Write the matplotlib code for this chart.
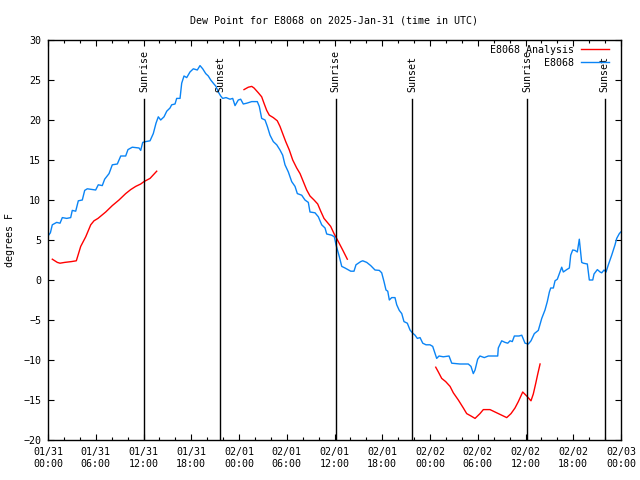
import matplotlib
matplotlib.use("Agg")
import matplotlib.pyplot as plt
from matplotlib.ticker import MultipleLocator, FixedLocator, FixedFormatter

# ---- data (hours since 2025-01-31 00:00 UTC, degrees F) ----
obs_h = [0.0, 0.3, 0.54, 1.09, 1.51, 1.80, 2.35, 2.85, 3.05, 3.48, 3.81, 4.31, 4.61, 4.94, 5.99,
         6.32, 6.82, 7.12, 7.67, 8.08, 8.71, 9.14, 9.76, 10.05, 10.59, 11.44, 11.65, 11.90, 12.28,
         12.82, 13.23, 13.57, 13.86, 14.16, 14.58, 14.92, 15.33, 15.54, 15.96, 16.17, 16.59, 16.80,
         17.09, 17.43, 17.84, 18.26, 18.76, 19.10, 19.44, 19.82, 20.14, 20.45, 20.77, 21.11, 21.40,
         21.70, 21.95, 22.37, 22.87, 23.21, 23.50, 23.91, 24.21, 24.54, 24.97, 25.60, 26.30, 26.55,
         26.85, 27.27, 27.56, 27.90, 28.31, 28.74, 29.15, 29.49, 29.78, 30.20, 30.62, 31.04, 31.33,
         31.88, 32.29, 32.71, 32.92, 33.55, 33.97, 34.39, 34.81, 35.02, 35.65, 35.98, 36.19, 36.61,
         36.91, 37.32, 38.04, 38.45, 38.70, 39.29, 39.55, 40.05, 40.55, 41.09, 41.63, 41.93, 42.22,
         42.47, 42.69, 42.89, 43.19, 43.60, 43.82, 44.14, 44.45, 44.73, 45.15, 45.49, 45.78, 46.12,
         46.41, 46.75, 47.09, 47.50, 48.00, 48.34, 48.84, 49.13, 49.67, 50.39, 50.73, 51.77, 52.81,
         53.15, 53.44, 53.66, 53.99, 54.28, 54.82, 55.33, 56.51, 56.58, 57.01, 57.43, 57.77, 58.06,
         58.34, 58.60, 59.19, 59.53, 59.94, 60.36, 60.69, 61.11, 61.61, 62.04, 62.45, 62.74, 63.00,
         63.17, 63.50, 63.71, 64.00, 64.25, 64.55, 64.75, 65.18, 65.51, 65.68, 65.93, 66.22, 66.51,
         66.76, 66.85, 67.06, 67.27, 67.77, 68.02, 68.45, 68.61, 69.03, 69.37, 69.58, 69.87, 70.12,
         70.41, 70.83, 71.25, 71.46, 71.79, 71.97]
obs_v = [5.5, 5.9, 6.9, 7.2, 7.1, 7.8, 7.7, 7.8, 8.7, 8.6, 9.9, 10.0, 11.2, 11.4, 11.25,
         11.9, 11.8, 12.6, 13.3, 14.4, 14.5, 15.5, 15.5, 16.3, 16.6, 16.5, 16.2, 17.2, 17.3,
         17.4, 18.3, 19.6, 20.4, 20.0, 20.4, 21.1, 21.5, 21.9, 22.0, 22.7, 22.7, 24.6,
         25.5, 25.3, 26.0, 26.4, 26.25, 26.8, 26.4, 25.8, 25.5, 25.0, 24.6, 24.2, 23.5,
         23.0, 22.7, 22.8, 22.6, 22.7, 21.8, 22.5, 22.6, 22.0, 22.1, 22.3, 22.3, 21.7,
         20.2, 20.0, 19.2, 18.1, 17.3, 16.9, 16.25, 15.6, 14.4, 13.5, 12.3, 11.7, 10.8,
         10.6, 10.0, 9.7, 8.5, 8.4, 7.9, 6.9, 6.5, 5.75, 5.6, 5.4, 4.4, 2.9,
         1.7, 1.5, 1.1, 1.1, 1.9, 2.3, 2.4, 2.2, 1.8, 1.25, 1.2, 0.9, -0.2,
         -1.25, -1.4, -2.5, -2.2, -2.2, -3.1, -3.8, -4.2, -5.2, -5.4, -6.25, -6.6, -6.9,
         -7.3, -7.2, -7.9, -8.1, -8.1, -8.3, -9.8, -9.5, -9.6, -9.5, -10.4, -10.5, -10.5,
         -10.8, -11.7, -11.25, -9.9, -9.5, -9.7, -9.5, -9.5, -8.5, -7.6, -7.8, -7.9, -7.6,
         -7.7, -7.0, -7.0, -6.9, -7.9, -8.0, -7.6, -6.7, -6.3, -4.8, -3.75, -2.7, -1.5,
         -1.0, -1.0, -0.1, 0.1, 0.8, 1.6, 1.0, 1.3, 1.5, 3.1, 3.75, 3.7, 3.5,
         5.1, 4.2, 2.2, 2.1, 2.0, 0.0, 0.0, 0.75, 1.3, 1.0, 0.9, 1.25, 1.0,
         1.9, 3.1, 4.4, 5.2, 5.8, 6.0]

ana1_h = [0.54, 1.17, 1.51, 2.10, 2.93, 3.56, 4.11, 4.74, 5.37, 5.78, 6.28, 7.25, 8.08, 8.92,
          9.76, 10.39, 11.02, 11.65, 12.06, 12.82, 13.66]
ana1_v = [2.6, 2.2, 2.1, 2.2, 2.3, 2.4, 4.2, 5.4, 6.9, 7.4, 7.7, 8.5, 9.3, 10.0,
          10.8, 11.3, 11.7, 12.0, 12.3, 12.7, 13.6]
ana2_h = [24.63, 25.17, 25.60, 25.89, 26.43, 26.85, 27.14, 27.48, 27.81, 28.31, 28.81, 29.15,
          29.49, 29.87, 30.32, 30.75, 31.25, 31.67, 32.08, 32.51, 32.92, 33.43, 33.89, 34.27,
          34.68, 35.10, 35.52, 35.94, 36.48, 37.03, 37.61]
ana2_v = [23.8, 24.1, 24.2, 24.0, 23.4, 22.9, 22.1, 21.2, 20.6, 20.3, 19.9, 19.2,
          18.3, 17.3, 16.25, 15.0, 14.0, 13.3, 12.3, 11.25, 10.5, 10.0, 9.5, 8.6,
          7.7, 7.2, 6.7, 5.8, 4.8, 3.75, 2.6]
ana3_h = [48.72, 49.05, 49.47, 49.97, 50.52, 50.93, 51.56, 52.19, 52.61, 53.15, 53.66, 54.28,
          54.70, 55.54, 56.17, 56.80, 57.64, 58.18, 58.68, 59.10, 59.65, 60.15, 60.69, 60.98,
          61.29, 61.54, 61.83]
ana3_v = [-10.9, -11.5, -12.3, -12.7, -13.3, -14.1, -15.0, -16.0, -16.7, -17.0, -17.3, -16.7,
          -16.2, -16.2, -16.5, -16.8, -17.2, -16.7, -16.0, -15.2, -14.0, -14.5, -15.1, -14.25,
          -12.9, -11.75, -10.5]

sun_h = [12.1, 21.65, 36.15, 45.78, 60.23, 69.95]
sun_lbl = ["Sunrise", "Sunset", "Sunrise", "Sunset", "Sunrise", "Sunset"]

xtick_h = [0, 6, 12, 18, 24, 30, 36, 42, 48, 54, 60, 66, 72]
xtick_lbl = ["01/31\n00:00", "01/31\n06:00", "01/31\n12:00", "01/31\n18:00",
             "02/01\n00:00", "02/01\n06:00", "02/01\n12:00", "02/01\n18:00",
             "02/02\n00:00", "02/02\n06:00", "02/02\n12:00", "02/02\n18:00",
             "02/03\n00:00"]

title = "Dew Point for E8068 on 2025-Jan-31 (time in UTC)"
ylabel = "degrees F"

# ---- drawing ----
FS = 7.2
plt.rcParams['font.family'] = ['DejaVu Sans Mono']
plt.rcParams['font.size'] = FS

fig = plt.figure(figsize=(6.4, 4.8), dpi=100)
ax = fig.add_axes([48/640, 40/480, (621-48)/640, 400/480])

red = '#ff0000'
blue = '#0a84f5'

ax.plot(ana1_h, ana1_v, color=red, lw=1.0, label="E8068 Analysis")
ax.plot(ana2_h, ana2_v, color=red, lw=1.0)
ax.plot(ana3_h, ana3_v, color=red, lw=1.0)
ax.plot(obs_h, obs_v, color=blue, lw=1.0, label="         E8068")

for h, lb in zip(sun_h, sun_lbl):
    ax.plot([h, h], [-20, 22.6], color='black', lw=1.0)
    ax.text(h, 23.5, lb, rotation=90, ha='center', va='bottom', fontsize=FS)

ax.set_xlim(0, 72)
ax.set_ylim(-20, 30)
ax.xaxis.set_major_locator(FixedLocator(xtick_h))
ax.xaxis.set_major_formatter(FixedFormatter(xtick_lbl))
ax.xaxis.set_minor_locator(MultipleLocator(2))
ax.yaxis.set_major_locator(MultipleLocator(5))
ax.tick_params(which='major', direction='in', length=4.5, width=0.8,
               top=True, right=True, labelsize=FS, pad=5)
ax.tick_params(which='minor', direction='in', length=2.2, width=0.8, top=True, right=True)
for s in ax.spines.values():
    s.set_linewidth(1.0)

ax.set_title(title, fontsize=FS, pad=12)
ax.set_ylabel(ylabel, fontsize=FS, labelpad=6)

ax.legend(loc='upper right', bbox_to_anchor=(0.994, 1.01), frameon=False,
          markerfirst=False, fontsize=FS,
          handlelength=2.8, handletextpad=0.7, borderaxespad=0.7, borderpad=0.2,
          labelspacing=0.3)

fig.savefig("out.png", dpi=100)
